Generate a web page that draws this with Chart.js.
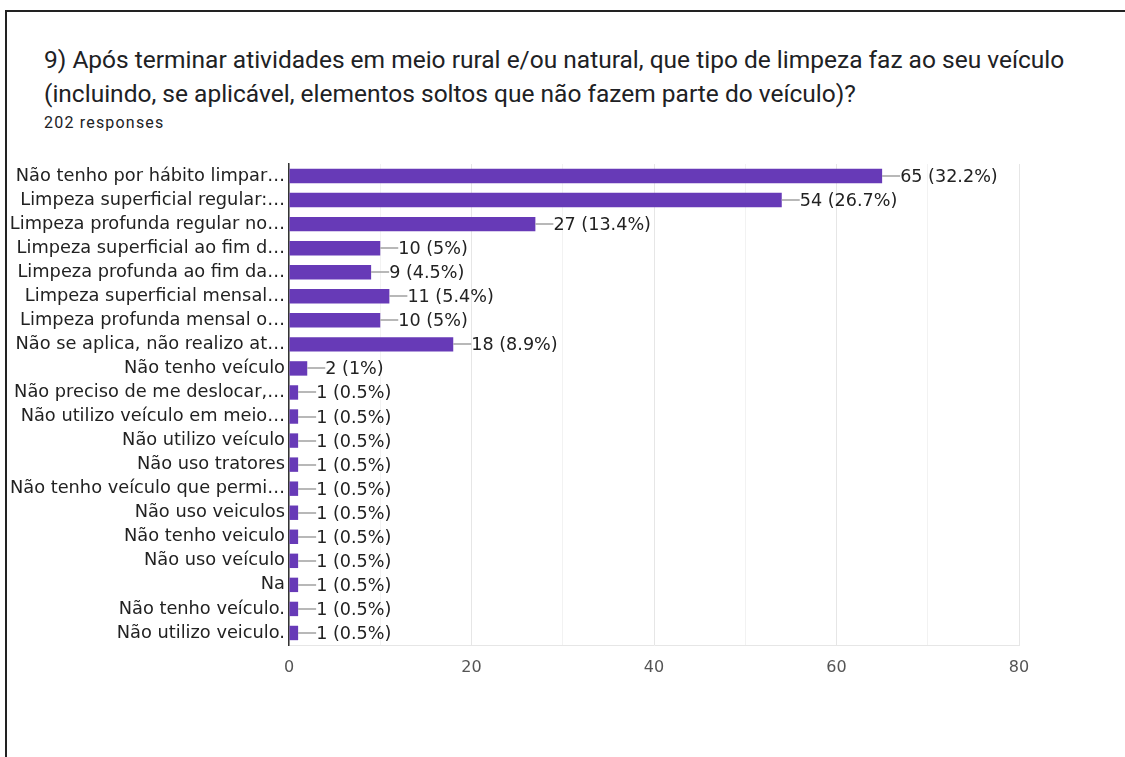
<!DOCTYPE html>
<html>
<head>
<meta charset="utf-8">
<script src="https://cdn.jsdelivr.net/npm/chart.js@4/dist/chart.umd.min.js"></script>
<style>
  body { margin: 0; background: #fff; }
  #wrap { position: relative; width: 1125px; height: 757px; overflow: hidden; }
  #frame { position: absolute; left: 5px; top: 10px; width: 1130px; height: 760px;
           border-top: 2px solid #222; border-left: 2px solid #222; }
  #titulo { position: absolute; left: 44px; top: 43px; font-family: Roboto, sans-serif;
            font-size: 24.5px; line-height: 34px; color: #202124; white-space: nowrap; }
  #respostas { position: absolute; left: 44px; top: 113px; font-family: Roboto, sans-serif;
               font-size: 16px; letter-spacing: 1.2px; color: #202124; }
  #grafico { position: absolute; left: 0; top: 0; }
</style>
</head>
<body>
<div id="wrap">
  <div id="frame"></div>
  <div id="titulo">9) Após terminar atividades em meio rural e/ou natural, que tipo de limpeza faz ao seu veículo<br>(incluindo, se aplicável, elementos soltos que não fazem parte do veículo)?</div>
  <div id="respostas">202 responses</div>
  <canvas id="grafico" width="1125" height="757"></canvas>
</div>
<script>
const categorias = [
  'Não tenho por hábito limpar…',
  'Limpeza superficial regular:…',
  'Limpeza profunda regular no…',
  'Limpeza superficial ao fim d…',
  'Limpeza profunda ao fim da…',
  'Limpeza superficial mensal…',
  'Limpeza profunda mensal o…',
  'Não se aplica, não realizo at…',
  'Não tenho veículo',
  'Não preciso de me deslocar,…',
  'Não utilizo veículo em meio…',
  'Não utilizo veículo',
  'Não uso tratores',
  'Não tenho veículo que permi…',
  'Não uso veiculos',
  'Não tenho veiculo',
  'Não uso veículo',
  'Na',
  'Não tenho veículo.',
  'Não utilizo veiculo.'
]
const respostas = [65, 54, 27, 10, 9, 11, 10, 18, 2, 1, 1, 1, 1, 1, 1, 1, 1, 1, 1, 1]
const percentagens = ['32.2', '26.7', '13.4', '5', '4.5', '5.4', '5', '8.9', '1',
  '0.5', '0.5', '0.5', '0.5', '0.5', '0.5', '0.5', '0.5', '0.5', '0.5', '0.5']
const ticksX = [0, 20, 40, 60, 80]

const fonte = '"DejaVu Sans", sans-serif'
const ctx = document.getElementById('grafico')

// rotulo "valor (pct%)" com tracinho cinza, estilo Google Forms
const rotulos = {
  id: 'rotulos',
  afterDatasetsDraw(chart) {
    const c = chart.ctx
    const meta = chart.getDatasetMeta(0)
    c.save()
    c.font = '17.6px ' + fonte
    c.textBaseline = 'middle'
    meta.data.forEach((barra, i) => {
      const x = barra.x
      const y = Math.round(barra.y)
      c.strokeStyle = '#a0a0a0'
      c.lineWidth = 1.5
      c.beginPath()
      c.moveTo(x, y)
      c.lineTo(x + 18, y)
      c.stroke()
      c.fillStyle = '#222'
      c.fillText(`${respostas[i]} (${percentagens[i]}%)`, x + 18, y + 1)
    })
    c.restore()
  }
}

new Chart(ctx, {
  type: 'bar',
  data: {
    labels: categorias,
    datasets: [{
      data: respostas,
      backgroundColor: '#673ab7',
      borderWidth: 0,
      barPercentage: 0.6,
      categoryPercentage: 1
    }]
  },
  options: {
    indexAxis: 'y',
    responsive: false,
    animation: false,
    layout: { padding: { left: 0, top: 164, right: 106, bottom: 0 } },
    plugins: { legend: { display: false }, tooltip: { enabled: false } },
    scales: {
      x: {
        min: 0,
        max: 80,
        afterFit(scale) { scale.height = 112 },
        afterBuildTicks(scale) {
          scale.ticks = [0, 10, 20, 30, 40, 50, 60, 70, 80].map(v => ({ value: v }))
        },
        ticks: {
          padding: 13,
          color: '#555',
          font: { family: fonte, size: 16 },
          callback: v => ticksX.includes(v) ? v : ''
        },
        grid: {
          drawTicks: false,
          color: c => (c.tick && c.tick.value % 20 === 0) ? '#e6e6e6' : '#f2f2f2'
        },
        border: { display: true, color: '#e6e6e6' }
      },
      y: {
        afterFit(scale) { scale.width = 289 },
        ticks: {
          padding: 4,
          color: '#222',
          autoSkip: false,
          font: { family: fonte, size: 17.8 }
        },
        grid: { display: false, drawTicks: false },
        border: { display: true, color: '#333', width: 1.5 }
      }
    }
  },
  plugins: [rotulos]
})
</script>
</body>
</html>
